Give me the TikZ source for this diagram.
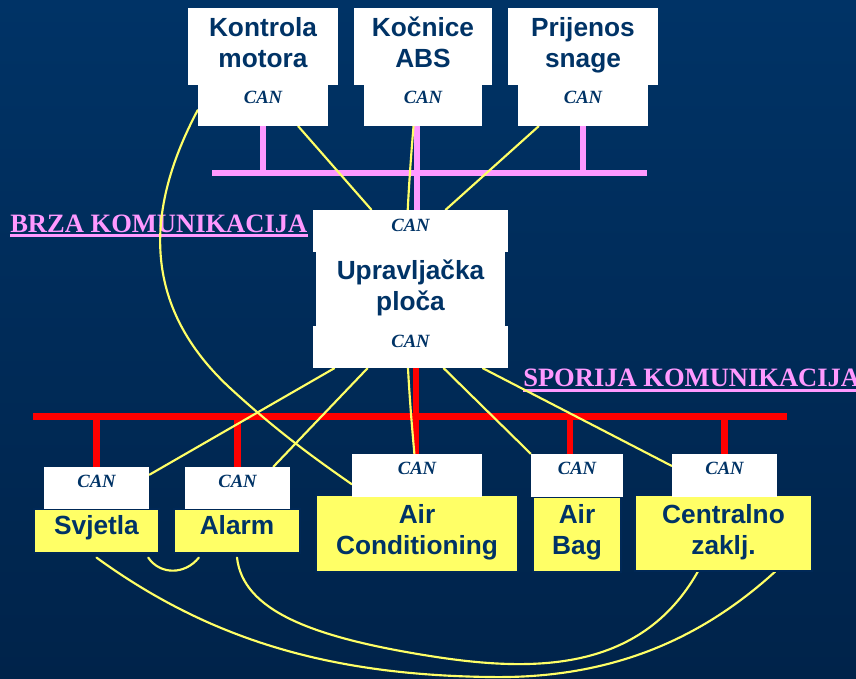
\documentclass[tikz,border=0pt]{standalone}
\usepackage{fontspec}
\setmainfont{Liberation Serif}
\setsansfont{Liberation Sans}
\usetikzlibrary{fit,calc}

\definecolor{navy}{RGB}{0,51,102}
\definecolor{bgtop}{RGB}{0,51,102}
\definecolor{bgbot}{RGB}{0,35,74}
\definecolor{buspink}{RGB}{255,153,255}
\definecolor{busred}{RGB}{255,0,0}
\definecolor{wireyellow}{RGB}{255,255,102}
\definecolor{boxyellow}{RGB}{255,255,102}
\definecolor{ybord}{RGB}{0,40,86}

\pgfdeclarelayer{bg}
\pgfdeclarelayer{wires}
\pgfsetlayers{bg,wires,main}

\tikzset{
  wbox/.style={fill=white, draw=none, inner sep=0pt},
  ybox/.style={fill=boxyellow, draw=ybord, line width=0.9pt, inner sep=0pt},
  lbl/.style={text=navy, font=\sffamily\bfseries\fontsize{19.7}{23.3}\selectfont, align=center, inner sep=0pt},
  cantxt/.style={text=navy, font=\rmfamily\bfseries\itshape\fontsize{14}{16}\selectfont, inner sep=0pt},
  hdr/.style={text=buspink, font=\rmfamily\bfseries\fontsize{19.9}{24}\selectfont, inner sep=0pt, anchor=base west},
  uline/.style={draw=buspink, line width=2.25pt},
  fastbus/.style={draw=buspink, line width=4.2pt},
  slowbus/.style={draw=busred, line width=4.8pt},
  wire/.style={draw=wireyellow, line width=1.6pt, line cap=round},
}

\begin{document}
\begin{tikzpicture}[x=0.75pt,y=-0.75pt]
\useasboundingbox (0,0) rectangle (856,678);

\begin{pgfonlayer}{bg}
  \shade[top color=bgtop, bottom color=bgbot] (0,0) rectangle (856,678);
  \node[hdr] (brza) at (10,232) {BRZA KOMUNIKACIJA};
  \draw[uline] ([yshift=-2.85pt]brza.base west) -- ([yshift=-2.85pt]brza.base east);
  \node[hdr] (spor) at (523,386) {SPORIJA KOMUNIKACIJA};
  \draw[uline] ([yshift=-3.2pt]spor.base west) -- ([yshift=-3.2pt]spor.base east);
\end{pgfonlayer}

% ---- fast bus units ----
\node[wbox, fit={(188,8) (338,85)}] (kmu) {};
\node[wbox, fit={(198,85) (328,126)}] (kmc) {};
\node[lbl] (kmt) at (263,42.5) {Kontrola\\motora};
\node[cantxt] (kmn) at (263,97.5) {CAN};

\node[wbox, fit={(354,8) (492,85)}] (kbu) {};
\node[wbox, fit={(364,85) (482,126)}] (kbc) {};
\node[lbl] (kbt) at (423,42.5) {Kočnice\\ABS};
\node[cantxt] (kbn) at (423,97.5) {CAN};

\node[wbox, fit={(508,8) (658,85)}] (kpu) {};
\node[wbox, fit={(518,85) (648,126)}] (kpc) {};
\node[lbl] (kpt) at (583,45) {Prijenos\\snage};
\node[cantxt] (kpn) at (583,97.5) {CAN};

% ---- central gateway ----
\node[wbox, fit={(313,210) (508,252)}] (cu) {};
\node[wbox, fit={(316,251) (505,327)}] (cm) {};
\node[wbox, fit={(313,326) (508,368)}] (cl) {};
\node[cantxt] (cun) at (410.5,225.5) {CAN};
\node[lbl] (cmt) at (410.5,288) {Upravljačka\\ploča};
\node[cantxt] (cln) at (410.5,341) {CAN};

% ---- slow bus units ----
\node[ybox, fit={(34,509) (159,553)}] (svy) {};
\node[wbox, fit={(44,467) (149,509)}] (svc) {};
\node[lbl] (svt) at (96.5,528) {Svjetla};
\node[cantxt] (svn) at (96.5,481.5) {CAN};

\node[ybox, fit={(174,509) (300,553)}] (aly) {};
\node[wbox, fit={(185,467) (290,509)}] (alc) {};
\node[lbl] (alt) at (237,525.5) {Alarm};
\node[cantxt] (aln) at (237.5,481.5) {CAN};

\node[ybox, fit={(316,495) (518,572)}] (acy) {};
\node[wbox, fit={(352,454) (482,497)}] (acc) {};
\node[lbl] (act) at (417,532.5) {Air\\Conditioning};
\node[cantxt] (acn) at (417,468.5) {CAN};

\node[ybox, fit={(533,497) (621,572)}] (aby) {};
\node[wbox, fit={(531,454) (623,497)}] (abc) {};
\node[lbl] (abt) at (577,532.5) {Air\\Bag};
\node[cantxt] (abn) at (577,468.5) {CAN};

\node[ybox, fit={(635,495) (812,571)}] (cey) {};
\node[wbox, fit={(672,454) (777,497)}] (cec) {};
\node[lbl] (cet) at (723.5,532.5) {Centralno\\zaklj.};
\node[cantxt] (cen) at (724.5,468.5) {CAN};

\begin{pgfonlayer}{wires}
  % fast bus
  \coordinate (fbL) at (212,173);
  \coordinate (fbR) at (647,173);
  \coordinate (fbM) at (416.8,173);
  \draw[fastbus] (fbL) -- (fbR);
  \draw[fastbus] (kmc.south) -- (kmc.south |- fbL);
  \draw[fastbus] (kpc.south) -- (kpc.south |- fbL);
  \draw[fastbus] (kbc.south -| fbM) -- (cu.north -| fbM);

  % slow bus
  \coordinate (sbL) at (33,416.5);
  \coordinate (sbR) at (787,416.5);
  \coordinate (sbM) at (416,416.5);
  \draw[slowbus] (sbL) -- (sbR);
  \draw[slowbus] (svc.north) -- (svc.north |- sbL);
  \draw[slowbus] (alc.north) -- (alc.north |- sbL);
  \draw[slowbus] (cl.south -| sbM) -- (acc.north -| sbM);
  \draw[slowbus] ([xshift=-5.25pt]abc.north) -- ([xshift=-5.25pt]abc.north |- sbL);
  \draw[slowbus] (cec.north) -- (cec.north |- sbL);

  % point-to-point wiring
  \draw[wire] ($(kmc.north west)!0.61!(kmc.south west)$)
      .. controls (150,200) and (135,300) .. (230,388)
      .. controls (280,434) and (320,462) .. ($(acc.north west)!0.7!(acc.south west)$);
  \draw[wire] ($(kmc.south west)!0.77!(kmc.south east)$) -- ($(cu.north west)!0.30!(cu.north east)$);
  \draw[wire] ($(kbc.south west)!0.42!(kbc.south east)$)
      .. controls (403,250) and (403,330) .. ($(acc.north west)!0.48!(acc.north east)$);
  \draw[wire] ($(kpc.south west)!0.16!(kpc.south east)$) -- ($(cu.north west)!0.68!(cu.north east)$);
  \draw[wire] ($(cl.south west)!0.11!(cl.south east)$) -- ($(svc.north east)!0.19!(svc.south east)$);
  \draw[wire] ($(cl.south west)!0.28!(cl.south east)$) -- ($(alc.north west)!0.84!(alc.north east)$);
  \draw[wire] ($(cl.south west)!0.67!(cl.south east)$) -- (abc.north west);
  \draw[wire] ($(cl.south west)!0.87!(cl.south east)$) -- ($(cec.north west)!0.28!(cec.south west)$);

  \draw[wire] ([yshift=-3pt]svy.south)
      .. controls (210,640) and (330,675) .. (490,677)
      .. controls (610,679) and (700,640) .. ($(cey.south west)!0.79!(cey.south east)$);
  \draw[wire] ([yshift=-3pt]aly.south)
      .. controls (243,610) and (310,637) .. (430,656)
      .. controls (530,671.8) and (640,674) .. ($(cey.south west)!0.356!(cey.south east)$);
  \draw[wire] ([yshift=-3pt]$(svy.south west)!0.91!(svy.south east)$)
      .. controls (160,575) and (185,575) .. ([yshift=-3pt]$(aly.south west)!0.2!(aly.south east)$);
\end{pgfonlayer}
\end{tikzpicture}
\end{document}
